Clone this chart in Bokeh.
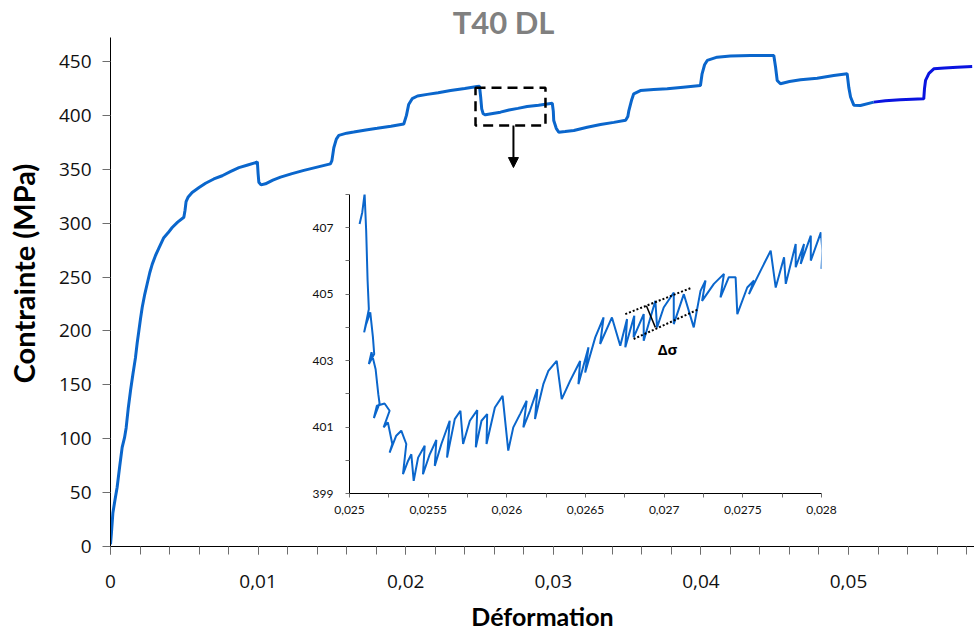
from bokeh.plotting import figure
from bokeh.models import (FixedTicker, CustomJSTickFormatter, Label, Arrow, NormalHead, Range1d)
from bokeh.embed import file_html
from bokeh.resources import INLINE

# ---------------- data ----------------
main_strain = [0.0, 0.00006, 0.00016, 0.00030, 0.00045, 0.00062, 0.00079, 0.00095, 0.00106, 0.00120,
               0.00136, 0.00152, 0.00169, 0.00181, 0.00192, 0.00204, 0.00215, 0.00232, 0.00249, 0.00266,
               0.00283, 0.00305, 0.00327, 0.00361, 0.00390, 0.00418, 0.00455, 0.00497, 0.00505, 0.00512,
               0.00525, 0.00553, 0.00600, 0.00644, 0.00700, 0.00757, 0.00815, 0.00870, 0.00930, 0.00990,
               0.00995, 0.01000, 0.01005, 0.01020, 0.01050, 0.01100, 0.01152, 0.01230, 0.01310, 0.01400,
               0.01490, 0.01500, 0.01513, 0.01530, 0.01547, 0.01600, 0.01648, 0.01730, 0.01807, 0.01900,
               0.01987, 0.02005, 0.02020, 0.02044, 0.02080, 0.02146, 0.02220, 0.02304, 0.02400, 0.02484,
               0.02500, 0.02508, 0.02515, 0.02525, 0.02540, 0.02600, 0.02642, 0.02700, 0.02760, 0.02823,
               0.02900, 0.02993, 0.03000, 0.03003, 0.03020, 0.03037, 0.03080, 0.03139, 0.03230, 0.03320,
               0.03410, 0.03490, 0.03505, 0.03512, 0.03530, 0.03545, 0.03590, 0.03680, 0.03772, 0.03880,
               0.03997, 0.04008, 0.04025, 0.04043, 0.04110, 0.04200, 0.04336, 0.04494, 0.04506, 0.04517,
               0.04539, 0.04600, 0.04675, 0.04788, 0.04900, 0.04991, 0.05002, 0.05014, 0.05036, 0.05081,
               0.05171]
main_stress = [2, 12, 31, 43, 55, 74, 92, 101, 110, 128,
               145, 160, 175, 189, 200, 212, 222, 234, 244, 254,
               262, 270, 276.5, 286.5, 291, 296, 301, 305.5, 312, 320,
               324, 328.5, 333, 337, 341, 344, 348, 351.5, 354, 356.5,
               357, 346, 338, 335.5, 336.5, 340, 342.7, 346, 349, 352,
               355, 358, 370, 378, 381.5, 383.5, 384.5, 386.5, 388, 390,
               392, 400, 410, 415.5, 418, 419.5, 421, 423, 425, 426.8,
               427, 417, 406, 401.5, 400.5, 402, 403, 405, 406.5, 408.2,
               409.5, 411.3, 404, 395.3, 388, 384.4, 385, 386, 389, 391.5,
               393.5, 395.5, 399, 404.5, 414, 420, 423, 424, 424.7, 426.2,
               427.7, 438.6, 447, 451, 454, 455, 455.5, 455.5, 444.7, 432.4,
               429.3, 431.5, 433, 434.5, 437, 438.6, 426, 417, 409.5, 409.2,
               412.3]
last_strain = [0.05171, 0.05250, 0.05350, 0.05510, 0.05515, 0.05522, 0.05545, 0.05578, 0.05650, 0.05736, 0.05838]
last_stress = [412.3, 413.5, 414.5, 415.4, 425, 432.4, 439, 443.2, 444, 444.7, 445.4]

inset_strain = [0.025064, 0.025081, 0.025096, 0.025106, 0.025115, 0.025123, 0.025093, 0.025106, 0.025132, 0.025149,
                0.025157, 0.025123, 0.025140, 0.025166, 0.025183, 0.025191, 0.025155, 0.025174, 0.025223, 0.025255,
                0.025217, 0.025244, 0.025272, 0.025255, 0.025297, 0.025329, 0.025361, 0.025340, 0.025372, 0.025393,
                0.025408, 0.025436, 0.025478, 0.025467, 0.025510, 0.025552, 0.025542, 0.025584, 0.025637, 0.025620,
                0.025669, 0.025705, 0.025722, 0.025765, 0.025812, 0.025803, 0.025839, 0.025875, 0.025871, 0.025924,
                0.025973, 0.026009, 0.026041, 0.026084, 0.026126, 0.026105, 0.026147, 0.026194, 0.026179, 0.026232,
                0.026264, 0.026317, 0.026349, 0.026402, 0.026466, 0.026455, 0.026519, 0.026498, 0.026562, 0.026615,
                0.026593, 0.026668, 0.026721, 0.026764, 0.026753, 0.026810, 0.026806, 0.026870, 0.026870, 0.026944,
                0.026955, 0.026997, 0.027061, 0.027061, 0.027125, 0.027188, 0.027231, 0.027263, 0.027241, 0.027316,
                0.027380, 0.027358, 0.027411, 0.027454, 0.027465, 0.027528, 0.027571, 0.027539, 0.027613, 0.027677,
                0.027709, 0.027762, 0.027773, 0.027836, 0.027836, 0.027889, 0.027868, 0.027932, 0.027932, 0.027996,
                0.028006, 0.028000]
inset_stress = [407.11, 407.46, 408.02, 406.91, 405.41, 404.55, 403.85, 404.10, 404.45, 403.70,
                403.20, 402.90, 403.25, 402.74, 401.99, 401.71, 401.27, 401.64, 401.71, 401.49,
                400.99, 401.14, 400.49, 400.23, 400.74, 400.89, 400.49, 399.58, 399.98, 400.18,
                399.38, 400.08, 400.44, 399.58, 400.18, 400.61, 399.83, 400.49, 401.19, 400.08,
                401.24, 401.49, 400.49, 401.19, 401.51, 400.39, 401.19, 401.39, 400.49, 401.59,
                401.94, 400.29, 400.99, 401.39, 401.79, 400.99, 401.49, 402.14, 401.24, 402.29,
                402.69, 402.99, 401.84, 402.39, 402.99, 402.29, 403.40, 402.64, 403.70, 404.30,
                403.50, 404.30, 403.45, 404.25, 403.40, 404.35, 403.70, 404.40, 403.60, 404.80,
                404.00, 404.60, 405.05, 404.10, 405.00, 404.00, 405.10, 405.41, 404.80, 405.31,
                405.61, 404.90, 405.51, 405.51, 404.40, 405.20, 405.41, 405.00, 405.71, 406.31,
                405.20, 406.11, 405.31, 406.51, 405.81, 406.51, 405.91, 406.76, 406.01, 406.86,
                406.31, 405.76]

main_x_ticks = [0.0, 0.01, 0.02, 0.03, 0.04, 0.05]
main_x_labels = ["0", "0,01", "0,02", "0,03", "0,04", "0,05"]
main_y_ticks = [0, 50, 100, 150, 200, 250, 300, 350, 400, 450]
main_y_labels = ["0", "50", "100", "150", "200", "250", "300", "350", "400", "450"]
inset_x_ticks = [0.025, 0.0255, 0.026, 0.0265, 0.027, 0.0275, 0.028]
inset_x_labels = ["0,025", "0,0255", "0,026", "0,0265", "0,027", "0,0275", "0,028"]
inset_y_ticks = [399, 401, 403, 405, 407]
inset_y_labels = ["399", "401", "403", "405", "407"]

title_text = "T40 DL"
x_title = "Déformation"
y_title = "Contrainte (MPa)"
delta_text = "Δσ"

# axis extents, title position, zoom box and arrow on main chart (data coords)
y_axis_top = 472.3
title_x, title_y = 0.02663, 486.6
box_left, box_right, box_bottom, box_top = 0.02473, 0.02947, 390.6, 425.6
arrow_x, arrow_y0, arrow_y1 = 0.0273, 390.6, 351.6
# dotted band and marker in inset (data coords)
band_top_x, band_top_y = [0.026753, 0.027167], [404.40, 405.18]
band_bot_x, band_bot_y = [0.026806, 0.027220], [403.65, 404.55]
mark_x, mark_y = [0.026887, 0.026944], [404.65, 404.00]
delta_x, delta_y = 0.027021, 403.36

FONT = "Lato"
TICK_FONT = "Open Sans"
BLUE = "#0a66cc"
DARK_BLUE = "#0a14e0"

FMT = """
let best = 0; let d = Infinity;
for (let i = 0; i < tv.length; i++) { const e = Math.abs(tv[i] - tick); if (e < d) { d = e; best = i; } }
return tl[best];
"""

def fmt(tick_values, tick_labels):
    return CustomJSTickFormatter(args=dict(tv=tick_values, tl=tick_labels), code=FMT)

# ---------------- main figure ----------------
p = figure(width=973, height=634, output_backend="svg", toolbar_location=None,
           x_range=Range1d(0, 0.058537), y_range=Range1d(0, 506.59),
           min_border_left=109, min_border_right=0, min_border_top=0, min_border_bottom=88)
p.styles = {"position": "absolute", "left": "1px", "top": "0px"}
p.outline_line_color = None
p.xgrid.visible = False
p.ygrid.visible = False
p.background_fill_color = "white"
p.border_fill_color = "white"

p.line(main_strain, main_stress, line_color=BLUE, line_width=3)
p.line(last_strain, last_stress, line_color=DARK_BLUE, line_width=3)

p.quad(left=[box_left], right=[box_right], bottom=[box_bottom], top=[box_top],
       fill_color=None, line_color="black", line_width=2.5, line_dash="10 6")
p.add_layout(Arrow(end=NormalHead(size=10, fill_color="black", line_color="black"),
                   x_start=arrow_x, y_start=arrow_y0, x_end=arrow_x, y_end=arrow_y1,
                   line_color="black", line_width=2))

xminor = [round(0.002 * k, 4) for k in range(0, 30)]
p.xaxis.ticker = FixedTicker(ticks=main_x_ticks, minor_ticks=xminor)
p.xaxis.formatter = fmt(main_x_ticks, main_x_labels)
p.yaxis.ticker = FixedTicker(ticks=main_y_ticks)
p.yaxis.formatter = fmt(main_y_ticks, main_y_labels)
p.yaxis.bounds = (0, y_axis_top)
for ax in (p.xaxis[0], p.yaxis[0]):
    ax.axis_line_color = "black"
    ax.axis_line_width = 1
    ax.major_tick_line_color = "#6e6e6e"
    ax.minor_tick_line_color = "#6e6e6e"
    ax.major_tick_in = 0
    ax.major_tick_out = 8
    ax.minor_tick_in = 0
    ax.minor_tick_out = 8
    ax.major_label_text_font = TICK_FONT
    ax.major_label_text_font_size = "19px"
    ax.major_label_text_color = "#111111"
    ax.axis_label_text_font = FONT
    ax.axis_label_text_font_style = "bold"
    ax.axis_label_text_color = "black"
p.xaxis[0].axis_label_text_font_size = "25px"
p.yaxis[0].axis_label_text_font_size = "29px"
p.yaxis[0].minor_tick_line_color = None
p.xaxis[0].major_label_standoff = 20
p.xaxis[0].axis_label_standoff = 10
p.yaxis[0].major_label_standoff = 11
p.yaxis[0].axis_label_standoff = 15
p.xaxis[0].axis_label = x_title
p.yaxis[0].axis_label = y_title

p.add_layout(Label(x=title_x, y=title_y, text=title_text, text_color="#808080",
                   text_font=FONT, text_font_size="31px", text_font_style="bold",
                   text_align="center", text_baseline="middle"))

# ---------------- inset figure ----------------
ins = figure(width=542, height=334, output_backend="svg", toolbar_location=None,
             x_range=Range1d(0.025, 0.028), y_range=Range1d(399, 408),
             min_border_left=50, min_border_right=20, min_border_top=5, min_border_bottom=30)
ins.styles = {"position": "absolute", "left": "299px", "top": "189px"}
ins.outline_line_color = None
ins.xgrid.visible = False
ins.ygrid.visible = False
ins.background_fill_alpha = 0
ins.border_fill_alpha = 0

ins.line(inset_strain, inset_stress, line_color=BLUE, line_width=2)
ins.line(band_top_x, band_top_y, line_color="black", line_width=2, line_dash="2 2")
ins.line(band_bot_x, band_bot_y, line_color="black", line_width=2, line_dash="2 2")
ins.line(mark_x, mark_y, line_color="black", line_width=1.5)
ins.add_layout(Label(x=delta_x, y=delta_y, text=delta_text, text_color="black",
                     text_font="Open Sans", text_font_size="15px", text_font_style="bold",
                     text_align="center", text_baseline="middle"))

ins_xminor = [0.02525, 0.02575, 0.02625, 0.02675, 0.02725, 0.02775]
ins_yminor = [400, 402, 404, 406, 408]
ins.xaxis.ticker = FixedTicker(ticks=inset_x_ticks, minor_ticks=ins_xminor)
ins.xaxis.formatter = fmt(inset_x_ticks, inset_x_labels)
ins.yaxis.ticker = FixedTicker(ticks=inset_y_ticks, minor_ticks=ins_yminor)
ins.yaxis.formatter = fmt(inset_y_ticks, inset_y_labels)
for ax in (ins.xaxis[0], ins.yaxis[0]):
    ax.axis_line_color = "black"
    ax.major_tick_line_color = "#6e6e6e"
    ax.minor_tick_line_color = "#6e6e6e"
    ax.major_tick_in = 0
    ax.major_tick_out = 4
    ax.minor_tick_in = 0
    ax.minor_tick_out = 4
    ax.major_label_text_font = FONT
    ax.major_label_text_font_size = "12px"
    ax.major_label_text_color = "#111111"
ins.xaxis[0].major_label_standoff = 8
ins.yaxis[0].major_label_standoff = 12

open("out.html", "w").write(file_html([p, ins], INLINE))
